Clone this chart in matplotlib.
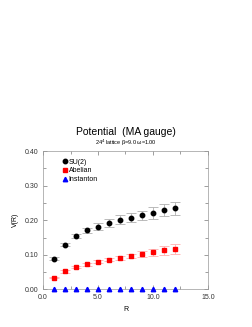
import numpy as np
import matplotlib
matplotlib.use("Agg")
import matplotlib.pyplot as plt
from matplotlib.ticker import MultipleLocator

R = [1, 2, 3, 4, 5, 6, 7, 8, 9, 10, 11, 12]
su2 = [0.089, 0.130, 0.154, 0.171, 0.182, 0.193, 0.202, 0.208, 0.214, 0.222, 0.230, 0.235]
su2_err = [0.004, 0.005, 0.006, 0.007, 0.009, 0.011, 0.012, 0.014, 0.014, 0.017, 0.017, 0.019]
abel = [0.034, 0.052, 0.064, 0.073, 0.080, 0.0865, 0.092, 0.097, 0.1026, 0.1075, 0.113, 0.117]
abel_err = [0.002, 0.003, 0.003, 0.004, 0.004, 0.005, 0.006, 0.007, 0.008, 0.010, 0.012, 0.0135]
inst = [0.0] * 12

plt.rcParams['font.family'] = ['Liberation Sans', 'DejaVu Sans']

fig = plt.figure(figsize=(2.53, 3.27), dpi=100)
ax = fig.add_axes([0.170, 0.1147, 0.652, 0.4233])

h1 = ax.errorbar(R, su2, yerr=su2_err, fmt='o', color='black', ms=3.2,
                 ecolor='#b0b0b0', elinewidth=0.6, capsize=3.5, capthick=0.6,
                 label='SU(2)', zorder=3)
h2 = ax.errorbar(R, abel, yerr=abel_err, fmt='s', color='red', ms=2.8,
                 ecolor='#ffb0b0', elinewidth=0.6, capsize=3.5, capthick=0.6,
                 label='Abelian', zorder=3)
h3, = ax.plot(R, inst, '^', color='blue', ms=3.2, ls='none', label='Instanton',
              zorder=4, clip_on=False)

ax.set_xlim(0, 15)
ax.set_ylim(0, 0.40)
ax.xaxis.set_major_locator(MultipleLocator(5))
ax.xaxis.set_minor_locator(MultipleLocator(2.5))
ax.yaxis.set_major_locator(MultipleLocator(0.1))
ax.yaxis.set_minor_locator(MultipleLocator(0.05))
ax.xaxis.set_major_formatter(plt.FormatStrFormatter('%.1f'))
ax.yaxis.set_major_formatter(plt.FormatStrFormatter('%.2f'))
ax.tick_params(which='both', direction='in', top=True, right=True,
               labelsize=5, width=0.4, colors='#555555', labelcolor='#333333')
ax.tick_params(which='major', length=3)
ax.tick_params(which='minor', length=2)
for s in ax.spines.values():
    s.set_linewidth(0.5)
    s.set_color('#999999')

ax.set_xlabel('R', fontsize=5, labelpad=3)
ax.set_ylabel('V(R)', fontsize=5, labelpad=4)

ax.legend([h1[0], h2[0], h3], ['SU(2)', 'Abelian', 'Instanton'],
          loc='upper left', bbox_to_anchor=(0.08, 0.98), fontsize=5,
          frameon=False, handletextpad=0.1, labelspacing=0.25,
          handlelength=1.0, borderpad=0.2)

fig.text(0.498, 0.596, 'Potential  (MA gauge)', ha='center', va='center', fontsize=7.5)
fig.text(0.498, 0.563, '24$^4$ lattice \u03b2=9.0 \u03c9=1.00', ha='center', va='center',
         fontsize=4)

fig.savefig('out.png', dpi=100)
